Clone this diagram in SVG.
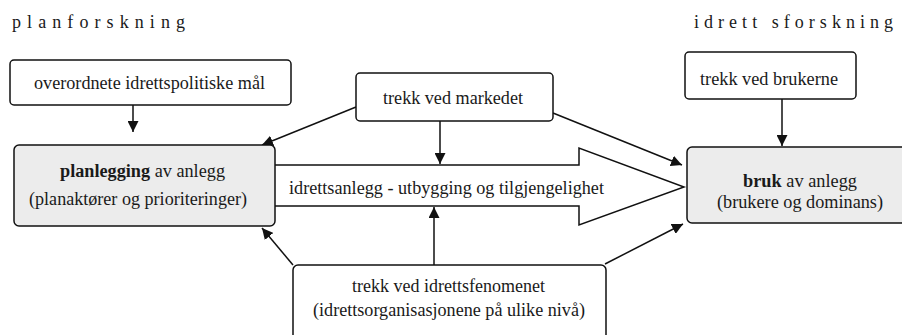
<svg xmlns="http://www.w3.org/2000/svg" width="902" height="335" viewBox="0 0 902 335">
<defs>
<marker id="ah" viewBox="0 0 10 10" refX="10" refY="5" markerWidth="11" markerHeight="11" markerUnits="userSpaceOnUse" orient="auto">
<path d="M0,0 L10,5 L0,10 z" fill="#111"/>
</marker>
<style>
.box{fill:#fff;stroke:#111;stroke-width:1.5}
.gbox{fill:#ececec;stroke:#111;stroke-width:1.5}
.lbl{font-family:"Liberation Serif","Times New Roman",serif;font-size:18px;fill:#1a1a1a}
</style>
</defs>
<rect width="902" height="335" fill="#fff"/>
<text class="lbl" x="12" y="28" textLength="173" lengthAdjust="spacing">planforskning</text>
<text class="lbl" x="694" y="28" textLength="199" lengthAdjust="spacing">idrett sforskning</text>

<g id="connectors" stroke="#111" stroke-width="1.5" fill="none">
<path d="M275,165 H579 V148 L684,187 L579,225 V206 H275" fill="#fff"/>
<line x1="133" y1="105" x2="133" y2="132" marker-end="url(#ah)"/>
<line x1="782" y1="99" x2="782" y2="146" marker-end="url(#ah)"/>
<line x1="440" y1="121" x2="440" y2="164" marker-end="url(#ah)"/>
<line x1="434" y1="265" x2="434" y2="207" marker-end="url(#ah)"/>
<line x1="356" y1="107" x2="262" y2="145" marker-end="url(#ah)"/>
<line x1="553" y1="113" x2="682" y2="165" marker-end="url(#ah)"/>
<line x1="293" y1="265" x2="262" y2="228" marker-end="url(#ah)"/>
<line x1="605" y1="264" x2="683" y2="224" marker-end="url(#ah)"/>
<text class="lbl" x="289" y="194" stroke="none" textLength="315" lengthAdjust="spacingAndGlyphs">idrettsanlegg - utbygging og tilgjengelighet</text>
</g>

<g text-anchor="middle">
<g id="n-overordnete">
<rect class="box" x="10" y="60" width="281" height="45" rx="4"/>
<text class="lbl" x="149.5" y="89" textLength="231" lengthAdjust="spacingAndGlyphs">overordnete idrettspolitiske mål</text>
</g>
<g id="n-markedet">
<rect class="box" x="356" y="73" width="197" height="48" rx="4"/>
<text class="lbl" x="453" y="104" textLength="140" lengthAdjust="spacingAndGlyphs">trekk ved markedet</text>
</g>
<g id="n-brukerne">
<rect class="box" x="685" y="52" width="171" height="47" rx="4"/>
<text class="lbl" x="769" y="85" textLength="138" lengthAdjust="spacingAndGlyphs">trekk ved brukerne</text>
</g>
<g id="n-planlegging">
<rect class="gbox" x="14" y="145" width="261" height="81" rx="5"/>
<text class="lbl" x="142.5" y="177" textLength="165" lengthAdjust="spacingAndGlyphs"><tspan font-weight="bold">planlegging</tspan> av anlegg</text>
<text class="lbl" x="138" y="205" textLength="218" lengthAdjust="spacingAndGlyphs">(planaktører og prioriteringer)</text>
</g>
<g id="n-bruk">
<rect class="gbox" x="687" y="147" width="222" height="76" rx="5"/>
<text class="lbl" x="800" y="187" textLength="114" lengthAdjust="spacingAndGlyphs"><tspan font-weight="bold">bruk</tspan> av anlegg</text>
<text class="lbl" x="800" y="208" textLength="166" lengthAdjust="spacingAndGlyphs">(brukere og dominans)</text>
</g>
<g id="n-idrettsfenomenet">
<rect class="box" x="293" y="265" width="313" height="80" rx="5"/>
<text class="lbl" x="448.5" y="292" textLength="193" lengthAdjust="spacingAndGlyphs">trekk ved idrettsfenomenet</text>
<text class="lbl" x="449" y="316" textLength="272" lengthAdjust="spacingAndGlyphs">(idrettsorganisasjonene på ulike nivå)</text>
</g>
</g>
</svg>
